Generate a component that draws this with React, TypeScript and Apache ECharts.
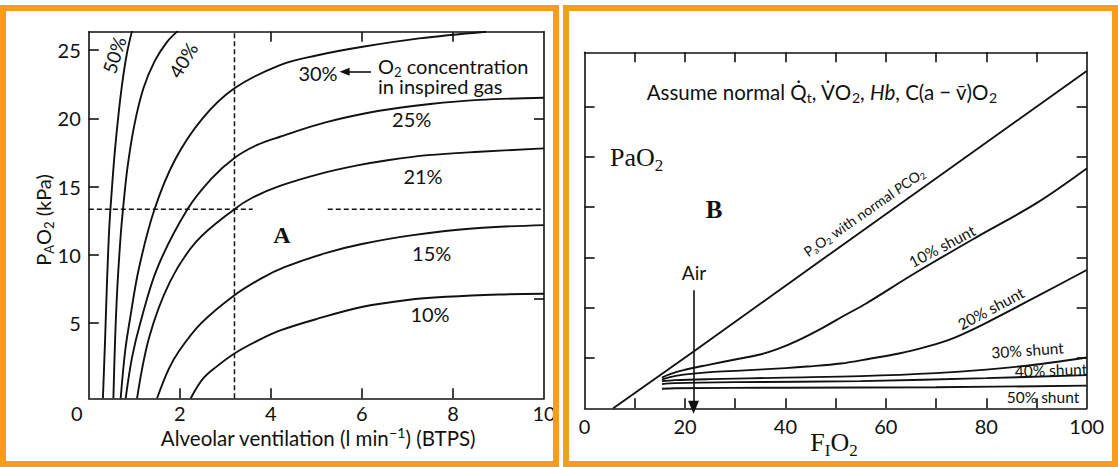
import React, { useEffect, useRef } from "react";
import * as echarts from "echarts";

// ---------- Panel A data (alveolar ventilation l/min vs PAO2 kPa) ----------
const ventTicks = [0, 2, 4, 6, 8, 10];
const ventInnerTicks = [2, 4, 6, 8];
const pao2Ticks = [5, 10, 15, 20, 25];
const topTicksA = [4, 6, 8];
const rightTicksA = [6.8, 20];

const curve50 = [[0.31, -0.5], [0.36, 4], [0.4, 8], [0.45, 12], [0.5, 14.5], [0.57, 17.5], [0.65, 20.2], [0.74, 22.7], [0.84, 24.8], [0.95, 26.4]];
const curve40 = [[0.54, -0.5], [0.58, 4], [0.63, 7.8], [0.7, 11.4], [0.75, 13.3], [0.85, 16.4], [1.0, 19.5], [1.2, 22.2], [1.45, 24.2], [1.72, 25.6], [1.96, 26.4]];
const curve30 = [[0.7, -0.5], [0.8, 3], [0.9, 5.2], [1.1, 9], [1.44, 13.3], [1.9, 17], [2.5, 20], [3.2, 22.2], [4.2, 23.9], [5.0, 24.6], [5.95, 25.2], [7.26, 25.85], [8.73, 26.34]];
const curve25 = [[0.81, -0.5], [0.95, 2.5], [1.13, 5], [1.5, 9], [2.16, 13.3], [2.7, 15.6], [3.2, 17.1], [3.7, 18.05], [4.2, 18.65], [5.2, 19.7], [6.38, 20.55], [7.5, 21.05], [8.58, 21.35], [10, 21.5]];
const curve21 = [[1.06, -0.5], [1.33, 4], [1.78, 8], [2.37, 11], [3.2, 13.35], [3.6, 14.2], [4.2, 15.05], [5.1, 15.95], [5.9, 16.55], [6.6, 16.95], [7.45, 17.3], [8.58, 17.55], [10, 17.8]];
const curve15 = [[1.5, -0.5], [1.75, 1.6], [1.99, 3], [2.47, 5], [3.2, 7.05], [3.8, 8.3], [4.3, 9.1], [5.22, 10.15], [6.0, 10.8], [7.12, 11.45], [8.5, 11.95], [10, 12.18]];
const curve10 = [[2.24, -0.5], [2.5, 0.9], [2.8, 1.8], [3.2, 2.78], [3.7, 3.7], [4.19, 4.45], [5.0, 5.3], [6.02, 6.2], [7.0, 6.7], [7.85, 6.93], [9.0, 7.1], [10, 7.15]];
const curvesA = [curve50, curve40, curve30, curve25, curve21, curve15, curve10];

const guideVertical = [[3.2, -0.5], [3.2, 26.34]];
const guideLeft = [[0, 13.35], [3.6, 13.35]];
const guideRight = [[5.25, 13.35], [10, 13.35]];
const arrowA = [[6.2, 23.41], [5.62, 23.41]];

// ---------- Panel B data (FIO2 % vs PaO2) ----------
const fio2Labels = [0, 20, 40, 60, 80, 100];
const innerTicksB = [10, 20, 30, 40, 50, 60, 70, 80, 90];
const paTicksB = [100, 200, 300, 400, 500, 600];

const normalLine = [[5.7, 0], [22, 115], [50, 315], [100, 671]];
const shunt10 = [[15.4, 61], [17, 68], [19.7, 76], [24.4, 86], [31, 99], [35, 107], [38.5, 118], [42.3, 134], [47.6, 161], [52, 186], [56, 208], [66, 270], [78, 340], [90, 408], [100, 477]];
const shunt20 = [[15.4, 57], [17, 62], [19.7, 67], [25, 72], [31, 75], [40, 80], [44.3, 83], [51, 89], [57, 99], [62.6, 109], [68, 122], [72, 134], [75, 146], [80, 170], [90, 222], [100, 275]];
const shunt30 = [[15.4, 54], [18, 56], [25, 58], [40, 61], [55, 64], [70, 70], [80, 77], [90, 87], [100, 101]];
const shunt40 = [[15.4, 48], [18, 50], [30, 52], [55, 54], [80, 60], [100, 66]];
const shunt50 = [[15.4, 39], [18, 40], [40, 41], [70, 42], [100, 45]];
const airArrow = [[21.7, 235], [21.7, 2]];

const INK = "#111";
const ORANGE = "#F89C1C";
const SANS = "Lato, 'Open Sans', sans-serif";
const SERIF = "'Liberation Serif', 'DejaVu Serif', serif";

function richSet(size: number, family: string, weight = "normal", lh?: number) {
  const small = Math.round(size * 0.66);
  const line = lh || size;
  return {
    n: { fontSize: size, fontFamily: family, fill: INK, color: INK, lineHeight: line, fontWeight: weight },
    s: { fontSize: small, fontFamily: family, fill: INK, color: INK, lineHeight: Math.round(line * 0.4), padding: [Math.round(line * 0.6), 0, 0, 0] },
    u: { fontSize: small, fontFamily: family, fill: INK, color: INK, lineHeight: Math.round(line * 0.4), padding: [0, 0, Math.round(line * 0.6), 0] },
    i: { fontSize: size, fontFamily: family, fill: INK, color: INK, lineHeight: line, fontStyle: "italic" },
  };
}

function txt(text: string, x: number, y: number, size: number, opts: any = {}) {
  const family = opts.family || SANS;
  const align = opts.align || "center";
  return {
    type: "text",
    x,
    y,
    rotation: ((opts.rot || 0) * Math.PI) / 180,
    z: 100,
    style: {
      text,
      rich: richSet(size, family, opts.weight, opts.lineHeight),
      fontSize: size,
      fontFamily: family,
      fontWeight: opts.weight || "normal",
      lineHeight: opts.lineHeight || size,
      fill: INK,
      align,
      textAlign: align,
      verticalAlign: "middle",
      textVerticalAlign: "middle",
    },
  };
}

function lineSeries(data: number[][], idx: number, extra: any = {}) {
  return {
    type: "line",
    xAxisIndex: idx,
    yAxisIndex: idx,
    data,
    showSymbol: false,
    symbol: "none",
    smooth: 0.35,
    lineStyle: { color: INK, width: 1.9 },
    silent: true,
    z: 5,
    ...extra,
  };
}

export default function App() {
  const ref = useRef<HTMLDivElement>(null);
  useEffect(() => {
    if (!ref.current) return;
    const chart = echarts.init(ref.current, null, { renderer: "svg" });
    const axisLine = { show: true, onZero: false, lineStyle: { color: INK, width: 1.6 } };
    const tickStyle = { color: INK, width: 1.6 };
    const labelFont = { fontSize: 20, fontFamily: SANS, color: INK };

    const series: any[] = [];
    curvesA.forEach((c) => series.push(lineSeries(c, 0)));
    const dash = { color: INK, width: 1.5, type: [5, 3] };
    series.push(lineSeries(guideVertical, 0, { smooth: false, lineStyle: dash }));
    series.push(lineSeries(guideLeft, 0, { smooth: false, lineStyle: dash }));
    series.push(lineSeries(guideRight, 0, {
      smooth: false,
      lineStyle: dash,
      markLine: {
        silent: true,
        animation: false,
        symbol: ["none", "triangle"],
        symbolSize: [8, 10],
        label: { show: false },
        lineStyle: { color: INK, width: 1.6, type: "solid" },
        data: [[{ coord: arrowA[0] }, { coord: arrowA[1] }]],
      },
    }));
    series.push(lineSeries(normalLine, 2, { smooth: false }));
    [shunt10, shunt20, shunt30, shunt40, shunt50].forEach((c) => series.push(lineSeries(c, 2)));
    series.push(lineSeries([[0, -10], [1, -10]], 2, {
      smooth: false,
      lineStyle: { opacity: 0 },
      markLine: {
        silent: true,
        animation: false,
        symbol: ["none", "triangle"],
        symbolSize: [11, 13],
        label: { show: false },
        lineStyle: { color: INK, width: 1.6, type: "solid" },
        data: [[{ coord: airArrow[0] }, { coord: airArrow[1] }]],
      },
    }));

    const option: any = {
      animation: false,
      backgroundColor: "#fff",
      grid: [
        { left: 88.8, top: 31.7, width: 455.2, height: 366.6 },
        { left: 584.6, top: 52.3, width: 502.1, height: 356 },
      ],
      xAxis: [
        {
          gridIndex: 0, type: "value", min: 0, max: 10, interval: 2, position: "bottom",
          axisLine, splitLine: { show: false },
          axisTick: { show: true, inside: true, length: 10, lineStyle: tickStyle, customValues: ventInnerTicks },
          axisLabel: {
            ...labelFont, margin: 5, customValues: ventTicks,
            formatter: (v: number) => (v === 0 ? "{z|0}" : String(v)),
            rich: { z: { fontSize: 20, fontFamily: SANS, color: INK, padding: [0, 24, 0, 0] } },
          },
        },
        {
          gridIndex: 0, type: "value", min: 0, max: 10, interval: 2, position: "top",
          axisLine, splitLine: { show: false }, axisLabel: { show: false },
          axisTick: { show: true, inside: true, length: 10, lineStyle: tickStyle, customValues: topTicksA },
        },
        {
          gridIndex: 1, type: "value", min: 0, max: 100, interval: 10, position: "bottom",
          axisLine, splitLine: { show: false },
          axisTick: { show: true, inside: true, length: 10, lineStyle: tickStyle, customValues: innerTicksB },
          axisLabel: { ...labelFont, margin: 8, customValues: fio2Labels },
        },
        {
          gridIndex: 1, type: "value", min: 0, max: 100, interval: 10, position: "top",
          axisLine, splitLine: { show: false }, axisLabel: { show: false },
          axisTick: { show: true, inside: true, length: 10, lineStyle: tickStyle, customValues: innerTicksB },
        },
      ],
      yAxis: [
        {
          gridIndex: 0, type: "value", min: -0.5, max: 26.34, position: "left",
          axisLine, splitLine: { show: false },
          axisTick: { show: true, inside: true, length: 10, lineStyle: tickStyle, customValues: pao2Ticks },
          axisLabel: { ...labelFont, margin: 8, customValues: pao2Ticks },
        },
        {
          gridIndex: 0, type: "value", min: -0.5, max: 26.34, position: "right",
          axisLine, splitLine: { show: false }, axisLabel: { show: false },
          axisTick: { show: true, inside: true, length: 10, lineStyle: tickStyle, customValues: rightTicksA },
        },
        {
          gridIndex: 1, type: "value", min: 0, max: 708, position: "left",
          axisLine, splitLine: { show: false }, axisLabel: { show: false },
          axisTick: { show: true, inside: true, length: 10, lineStyle: tickStyle, customValues: paTicksB },
        },
        {
          gridIndex: 1, type: "value", min: 0, max: 708, position: "right",
          axisLine, splitLine: { show: false }, axisLabel: { show: false },
          axisTick: { show: true, inside: true, length: 10, lineStyle: tickStyle, customValues: paTicksB },
        },
      ],
      series,
      graphic: [
        { type: "rect", shape: { x: 3, y: 8, width: 553, height: 456 }, style: { fill: "none", stroke: ORANGE, lineWidth: 6 }, z: 200 },
        { type: "rect", shape: { x: 566, y: 8, width: 549, height: 456 }, style: { fill: "none", stroke: ORANGE, lineWidth: 6 }, z: 200 },
        // panel A texts
        txt("{n|P}{s|A}{n|O}{s|2}{n| (kPa)}", 43, 220, 20, { rot: 90 }),
        txt("{n|Alveolar ventilation (l min}{u|−1}{n|) (BTPS)}", 318, 438, 20.5),
        txt("{n|50%}", 114, 55, 19, { rot: 72 }),
        txt("{n|40%}", 183, 60, 19, { rot: 59 }),
        txt("{n|30%}", 318, 72.5, 20),
        txt("{n|O}{s|2}{n| concentration}\n{n|in inspired gas}", 378, 76, 20, { align: "left", lineHeight: 20.5 }),
        txt("{n|25%}", 411.7, 119, 20),
        txt("{n|21%}", 423, 175.5, 20),
        txt("{n|15%}", 431.7, 252.5, 20),
        txt("{n|10%}", 430, 314, 20),
        txt("{n|A}", 282, 235, 24, { family: SERIF, weight: "bold" }),
        // panel B texts
        txt("{n|Assume normal Q̇}{s|t}{n|, V̇O}{s|2}{n|, }{i|Hb}{n|, C(a − v̄)O}{s|2}", 646.7, 91.7, 20.5, { align: "left" }),
        txt("{n|PaO}{s|2}", 610, 157, 26, { family: SERIF, align: "left" }),
        txt("{n|B}", 714, 209, 25, { family: SERIF, weight: "bold" }),
        txt("{n|F}{s|I}{n|O}{s|2}", 834, 442, 26, { family: SERIF }),
        txt("{n|Air}", 694, 272.5, 19),
        txt("{n|P}{s|a}{n|O}{s|2}{n| with normal }{i|P}{n|CO}{s|2}", 864, 212, 14, { rot: 34.8 }),
        txt("{n|10% shunt}", 942, 246, 15.5, { rot: 28 }),
        txt("{n|20% shunt}", 990.8, 308.3, 15.5, { rot: 28 }),
        txt("{n|30% shunt}", 1027.5, 350, 15.5, { rot: 4 }),
        txt("{n|40% shunt}", 1051, 370, 15.5, { rot: 2 }),
        txt("{n|50% shunt}", 1043, 396.7, 15.5),
      ],
    };
    chart.setOption(option);
    return () => chart.dispose();
  }, []);
  return (
    <div
      ref={ref}
      style={{ position: "absolute", left: 0, top: 0, width: 1118, height: 467, background: "#fff" }}
    />
  );
}
